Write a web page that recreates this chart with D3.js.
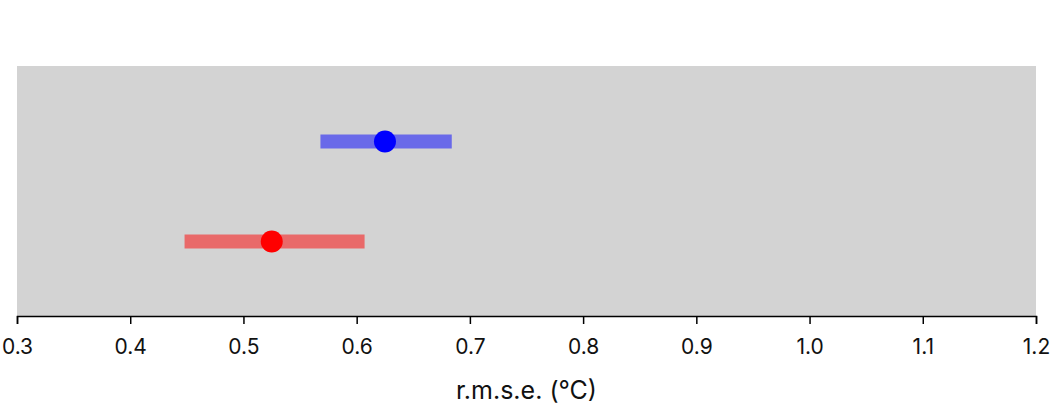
<!DOCTYPE html>
<html><head><meta charset="utf-8">
<script src="https://cdn.jsdelivr.net/npm/d3@7"></script>
<style>body{margin:0;background:#fff}svg{display:block}text{font-family:Inter,"Noto Sans",sans-serif}</style>
</head><body><svg id="c" width="1055" height="412"></svg>
<script>
const series = ["blue", "red"];
const colors = ["#0000ff", "#ff0000"];
const lows = [0.568, 0.448];
const highs = [0.684, 0.607];
const centers = [0.625, 0.525];
const ticks = [0.3,0.4,0.5,0.6,0.7,0.8,0.9,1.0,1.1,1.2];
const xTitle = "r.m.s.e. (°C)";

const svg = d3.select("#c");
const m = {l:17, r:1036, t:66, b:316};
const x = d3.scaleLinear().domain([0.3,1.2]).range([m.l, m.r]);
const y = d3.scalePoint().domain(series).range([141.5, 241.5]);

svg.append("rect").attr("x",m.l).attr("y",m.t).attr("width",m.r-m.l).attr("height",m.b-m.t).attr("fill","#d3d3d3");

const g = svg.append("g");
series.forEach((s,i)=>{
  g.append("line").attr("x1",x(lows[i])).attr("x2",x(highs[i])).attr("y1",y(s)).attr("y2",y(s))
    .attr("stroke",colors[i]).attr("stroke-opacity",0.5).attr("stroke-width",14);
  g.append("circle").attr("cx",x(centers[i])).attr("cy",y(s)).attr("r",11).attr("fill",colors[i]);
});

const ax = svg.append("g").attr("transform",`translate(0,${m.b})`)
  .call(d3.axisBottom(x).tickValues(ticks).tickFormat(d3.format(".1f")).tickSize(8).tickPadding(15));
ax.select(".domain").attr("stroke","#000").attr("stroke-width",1.5);
ax.selectAll(".tick line").attr("stroke","#000").attr("stroke-width",1.5);
ax.selectAll(".tick text").attr("font-size",21).attr("fill","#111").attr("font-family","Inter,sans-serif");

svg.append("text").attr("x",(m.l+m.r)/2).attr("y",399).attr("text-anchor","middle")
  .attr("font-size",25).attr("fill","#111").text(xTitle);
</script></body></html>
